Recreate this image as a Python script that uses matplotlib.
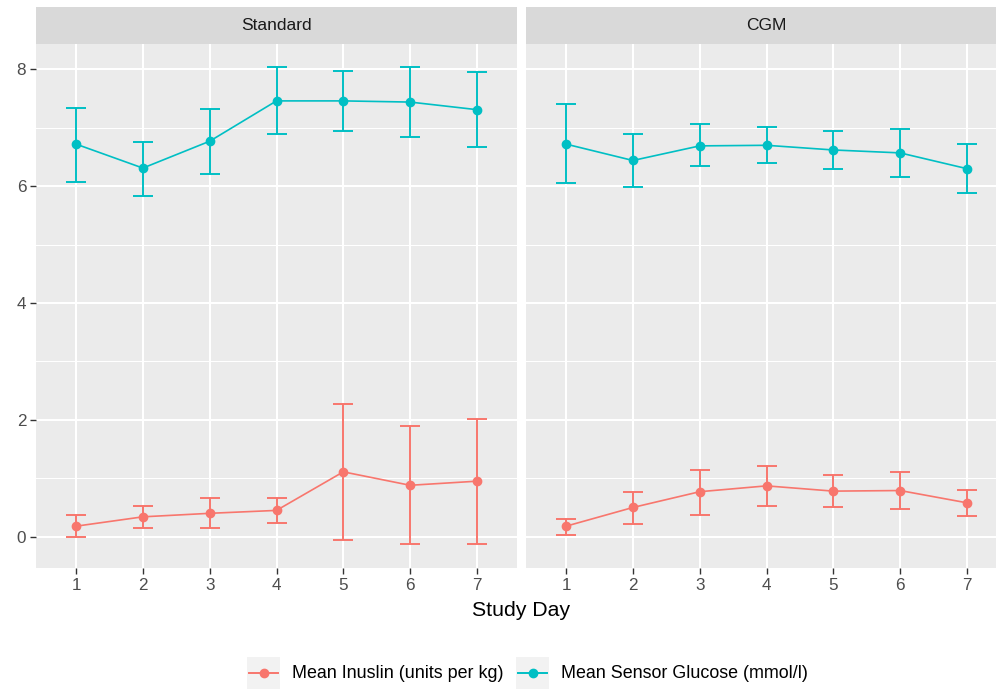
import matplotlib
matplotlib.use('Agg')
import matplotlib.pyplot as plt
import numpy as np
from matplotlib.lines import Line2D
from matplotlib.patches import Rectangle

plt.rcParams['font.family'] = ['Liberation Sans', 'DejaVu Sans']

# ---------------- data ----------------
days = [1, 2, 3, 4, 5, 6, 7]
panels = ['Standard', 'CGM']
series = ['Mean Inuslin (units per kg)', 'Mean Sensor Glucose (mmol/l)']
colors = ['#F8766D', '#00BFC4']
y_ticks = [0, 2, 4, 6, 8]
x_label = 'Study Day'

std_ins_mean = [0.18, 0.34, 0.40, 0.45, 1.11, 0.88, 0.95]
std_ins_lo = [0.00, 0.15, 0.15, 0.23, -0.05, -0.12, -0.12]
std_ins_hi = [0.37, 0.53, 0.66, 0.66, 2.27, 1.89, 2.01]

std_glu_mean = [6.72, 6.31, 6.77, 7.46, 7.46, 7.44, 7.31]
std_glu_lo = [6.08, 5.84, 6.21, 6.90, 6.94, 6.84, 6.67]
std_glu_hi = [7.34, 6.76, 7.32, 8.04, 7.98, 8.04, 7.96]

cgm_ins_mean = [0.18, 0.50, 0.77, 0.87, 0.78, 0.79, 0.58]
cgm_ins_lo = [0.03, 0.21, 0.37, 0.53, 0.51, 0.47, 0.35]
cgm_ins_hi = [0.31, 0.77, 1.15, 1.21, 1.05, 1.11, 0.80]

cgm_glu_mean = [6.72, 6.44, 6.69, 6.70, 6.62, 6.57, 6.30]
cgm_glu_lo = [6.05, 5.98, 6.35, 6.40, 6.30, 6.16, 5.88]
cgm_glu_hi = [7.40, 6.90, 7.06, 7.02, 6.94, 6.98, 6.72]

panel_data = {
    'Standard': [(std_ins_mean, std_ins_lo, std_ins_hi), (std_glu_mean, std_glu_lo, std_glu_hi)],
    'CGM': [(cgm_ins_mean, cgm_ins_lo, cgm_ins_hi), (cgm_glu_mean, cgm_glu_lo, cgm_glu_hi)],
}

# ---------------- layout ----------------
W, H = 996, 690
fig = plt.figure(figsize=(W / 100, H / 100), dpi=100)
fig.patch.set_facecolor('white')

def box(x0, y0, x1, y1):
    return [x0 / W, 1 - y1 / H, (x1 - x0) / W, (y1 - y0) / H]

panel_px = [(36, 517), (526, 1007)]
top_px, bot_px, strip_top = 44, 568, 7

for i, name in enumerate(panels):
    x0, x1 = panel_px[i]
    ax = fig.add_axes(box(x0, top_px, x1, bot_px))
    ax.set_facecolor('#EBEBEB')
    for s in ax.spines.values():
        s.set_visible(False)
    ax.set_xlim(0.4, 7.6)
    ax.set_ylim(-0.536, 8.434)
    ax.set_xticks(days)
    ax.set_yticks(y_ticks)
    ax.set_yticks([1, 3, 5, 7], minor=True)
    ax.grid(which='major', color='white', linewidth=1.5, zorder=0)
    ax.grid(which='minor', axis='y', color='white', linewidth=0.75, zorder=0)
    ax.set_axisbelow(True)
    ax.tick_params(axis='both', which='major', length=4, width=1.0, color='#333333',
                   labelcolor='#4D4D4D', labelsize=12.3, pad=3)
    ax.tick_params(axis='y', which='minor', length=0)
    ax.set_xticklabels([str(d) for d in days])
    if i == 0:
        ax.set_yticklabels([str(t) for t in y_ticks])
    else:
        ax.tick_params(axis='y', which='both', left=False, labelleft=False)

    for (m, lo, hi), c in zip(panel_data[name], colors):
        m = np.array(m); lo = np.array(lo); hi = np.array(hi)
        ax.plot(days, m, color=c, linewidth=1.2, zorder=3)
        ax.errorbar(days, m, yerr=[m - lo, hi - m], fmt='none', ecolor=c,
                    elinewidth=1.4, capsize=7.4, capthick=1.4, zorder=3)
        ax.plot(days, m, 'o', color=c, markersize=6, zorder=4)

    sax = fig.add_axes(box(x0, strip_top, x1, top_px))
    sax.set_facecolor('#D9D9D9')
    sax.set_xticks([]); sax.set_yticks([])
    for s in sax.spines.values():
        s.set_visible(False)
    sax.text(0.5, 0.5, name, ha='center', va='center', fontsize=12.5, color='#1A1A1A',
             transform=sax.transAxes)

fig.text(521.5 / W, 1 - 610 / H, x_label, ha='center', va='center', fontsize=15.3, color='black')

# legend
key_boxes = [(247, 280, 292), (516, 549, 561)]
ly0, ly1 = 657, 689
lyc = (ly0 + ly1) / 2
for (kx0, kx1, tx), lab, c in zip(key_boxes, series, colors):
    fig.patches.append(Rectangle((kx0 / W, 1 - ly1 / H), (kx1 - kx0) / W, (ly1 - ly0) / H,
                                 transform=fig.transFigure, facecolor='#F2F2F2',
                                 edgecolor='none', zorder=1))
    fig.lines.append(Line2D([(kx0 + 2) / W, (kx1 - 2) / W], [1 - lyc / H, 1 - lyc / H],
                            transform=fig.transFigure, color=c, linewidth=1.4, zorder=2))
    fig.lines.append(Line2D([(kx0 + kx1) / 2 / W], [1 - lyc / H], transform=fig.transFigure,
                            color=c, marker='o', markersize=6, linestyle='none', zorder=3))
    fig.text(tx / W, 1 - lyc / H, lab, ha='left', va='center', fontsize=12.9, color='black')

fig.savefig('out.png', dpi=100, facecolor='white')
